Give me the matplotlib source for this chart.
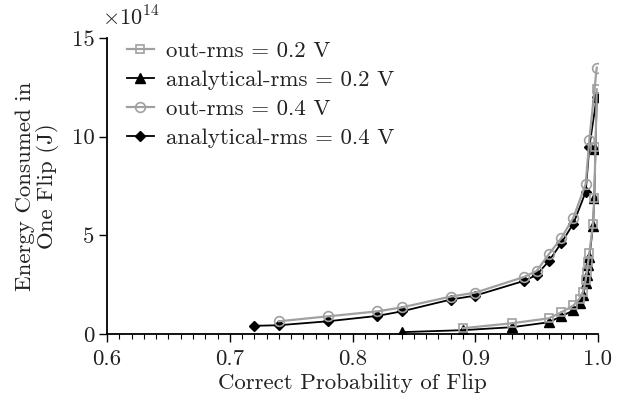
import matplotlib
matplotlib.use("Agg")
import matplotlib.pyplot as plt
from matplotlib.ticker import MultipleLocator

plt.rcParams['font.family'] = 'serif'
plt.rcParams['font.serif'] = ['cmr10']
plt.rcParams['mathtext.fontset'] = 'cm'
plt.rcParams['axes.formatter.use_mathtext'] = True

# valeurs en unités de 1e14
x_out02 = [0.89, 0.93, 0.96, 0.97, 0.98, 0.985, 0.988, 0.990, 0.991, 0.992, 0.993, 0.996, 0.997, 0.998, 0.999]
y_out02 = [0.3, 0.55, 0.8, 1.1, 1.45, 1.8, 2.15, 2.75, 3.15, 3.65, 4.1, 5.6, 6.9, 9.5, 12.4]

x_an02 = [0.84, 0.89, 0.93, 0.96, 0.97, 0.98, 0.985, 0.988, 0.990, 0.991, 0.992, 0.993, 0.996, 0.997, 0.998, 0.999]
y_an02 = [0.1, 0.2, 0.35, 0.6, 0.9, 1.2, 1.6, 2.0, 2.6, 3.0, 3.5, 3.9, 5.5, 6.9, 9.4, 12.0]

x_out04 = [0.74, 0.78, 0.82, 0.84, 0.88, 0.90, 0.94, 0.95, 0.96, 0.97, 0.98, 0.99, 0.993, 0.999]
y_out04 = [0.65, 0.9, 1.15, 1.35, 1.9, 2.1, 2.9, 3.2, 4.05, 4.85, 5.9, 7.6, 9.85, 13.5]

x_an04 = [0.72, 0.74, 0.78, 0.82, 0.84, 0.88, 0.90, 0.94, 0.95, 0.96, 0.97, 0.98, 0.99, 0.993, 0.999]
y_an04 = [0.42, 0.45, 0.65, 0.92, 1.15, 1.75, 1.95, 2.7, 3.0, 3.7, 4.6, 5.6, 7.2, 9.5, 12.0]

grey = '#a0a0a0'
txt = '#222222'

fig = plt.figure(figsize=(6.19, 4.04), dpi=100)
ax = fig.add_axes([0.173, 0.173, 0.793, 0.733])

ax.plot(x_out02, y_out02, color=grey, lw=1.6, marker='s', ms=6,
        mfc='none', mec=grey, mew=1.2, label='out-rms = 0.2 V', zorder=3)
ax.plot(x_an02, y_an02, color='black', lw=1.3, marker='^', ms=7,
        mfc='black', mec='black', label='analytical-rms = 0.2 V', zorder=2)
ax.plot(x_out04, y_out04, color=grey, lw=1.6, marker='o', ms=7,
        mfc='none', mec=grey, mew=1.2, label='out-rms = 0.4 V', zorder=3)
ax.plot(x_an04, y_an04, color='black', lw=1.3, marker='D', ms=5,
        mfc='black', mec='black', label='analytical-rms = 0.4 V', zorder=2)

ax.set_xlim(0.6, 1.0)
ax.set_ylim(0, 15)
ax.set_xticks([0.6, 0.7, 0.8, 0.9, 1.0])
ax.set_xticklabels(['0.6', '0.7', '0.8', '0.9', '1.0'])
ax.xaxis.set_minor_locator(MultipleLocator(0.01))
ax.set_yticks([0, 5, 10, 15])
ax.set_yticklabels(['0', '5', '10', '15'])

ax.spines['top'].set_visible(False)
ax.spines['right'].set_visible(False)
ax.spines['left'].set_linewidth(1.3)
ax.spines['bottom'].set_linewidth(1.3)
ax.tick_params(axis='both', which='major', direction='out', length=6, width=1.0,
               labelsize=16.5, labelcolor=txt)
ax.tick_params(axis='x', which='minor', direction='out', length=3.5, width=0.8)
ax.tick_params(axis='x', pad=5)
ax.tick_params(axis='y', pad=3)

ax.set_xlabel('Correct Probability of Flip', fontsize=16.5, labelpad=3, color=txt)
ax.set_ylabel('Energy Consumed in\nOne Flip (J)', fontsize=16.5, labelpad=9,
              color=txt, linespacing=1.1)

ax.text(-0.01, 1.03, r'$\times 10^{14}$', transform=ax.transAxes, fontsize=16,
        ha='left', va='bottom', color=txt)

leg = ax.legend(loc='upper left', bbox_to_anchor=(0.012, 1.035), frameon=False,
                fontsize=16.5, handlelength=1.2, handletextpad=0.5,
                labelspacing=0.38, borderaxespad=0.2)
for t in leg.get_texts():
    t.set_color(txt)

fig.savefig('out.png', dpi=100)
